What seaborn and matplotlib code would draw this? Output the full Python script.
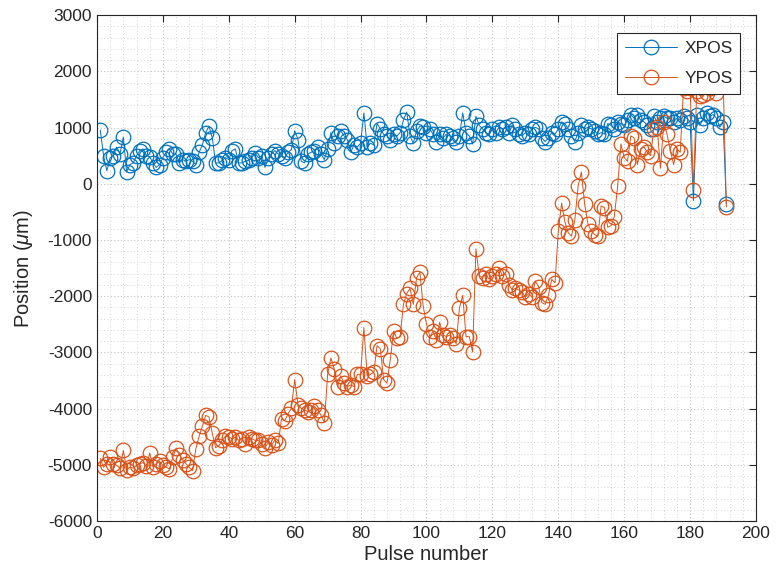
import numpy as np
import pandas as pd
import matplotlib
matplotlib.use("Agg")
import matplotlib.pyplot as plt
import seaborn as sns
from matplotlib.ticker import MultipleLocator

pulse = list(range(1, 192))

xpos = [955, 500, 230, 465, 500, 650, 530, 830, 210, 340,
        370, 500, 590, 620, 500, 480, 370, 290, 340, 465,
        560, 620, 530, 530, 370, 430, 400, 430, 400, 340,
        560, 690, 910, 1025, 815, 370, 370, 415, 465, 430,
        590, 620, 370, 370, 400, 415, 465, 540, 465, 500,
        290, 465, 530, 590, 530, 500, 465, 560, 605, 940,
        785, 400, 370, 530, 560, 590, 655, 530, 430, 620,
        910, 720, 850, 940, 850, 785, 560, 690, 655, 720,
        1260, 655, 720, 690, 1070, 975, 880, 850, 785, 880,
        850, 910, 1130, 1275, 850, 720, 940, 1025, 1005, 910,
        975, 880, 750, 880, 815, 880, 850, 815, 750, 850,
        1260, 910, 850, 705, 1200, 1040, 975, 910, 880, 975,
        910, 1005, 975, 1005, 910, 1040, 975, 880, 850, 910,
        880, 975, 1005, 975, 815, 750, 815, 910, 880, 975,
        1100, 1070, 975, 850, 750, 910, 1040, 975, 1005, 975,
        940, 880, 910, 880, 1070, 1040, 975, 1100, 1070, 1040,
        1130, 1230, 1165, 1230, 1130, 1100, 1040, 975, 1200, 1100,
        1165, 1200, 1165, 1165, 1100, 1165, 1130, 1200, 1165, 1100,
        -300, 1230, 1040, 1165, 1260, 1200, 1230, 1165, 1005, 1100,
        -360]

ypos = [-4885, -5045, -4980, -4870, -4980, -5010, -5060, -4745, -5085, -5045,
        -5060, -5010, -4980, -4960, -5025, -4790, -5045, -4980, -4935, -5010,
        -5045, -5075, -4870, -4705, -4820, -4915, -4980, -5045, -5105, -4720,
        -4490, -4310, -4120, -4150, -4440, -4695, -4660, -4565, -4490, -4505,
        -4535, -4505, -4565, -4535, -4630, -4505, -4535, -4565, -4565, -4630,
        -4695, -4600, -4645, -4565, -4620, -4185, -4215, -4090, -3995, -3485,
        -3930, -3995, -4025, -4055, -4025, -3960, -4025, -4120, -4250, -3390,
        -3100, -3295, -3610, -3420, -3550, -3610, -3580, -3610, -3390, -3390,
        -2560, -3420, -3390, -3355, -2880, -2940, -3485, -3550, -3135, -2625,
        -2750, -2720, -2145, -1955, -1860, -2145, -1670, -1575, -2180, -2495,
        -2720, -2625, -2785, -2465, -2690, -2720, -2690, -2750, -2845, -2210,
        -1985, -2720, -2720, -2995, -1160, -1635, -1670, -1605, -1700, -1635,
        -1605, -1495, -1635, -1605, -1795, -1890, -1860, -1890, -1925, -2020,
        -1955, -2020, -1730, -1830, -2115, -2145, -1985, -1700, -1765, -840,
        -345, -680, -870, -935, -650, -45, 210, -365, -715, -840,
        -905, -935, -395, -425, -775, -745, -585, -45, 705, 465,
        400, 850, 815, 340, 620, 655, 560, 500, 975, 1005,
        275, 1100, 880, 590, 340, 620, 560, 1705, 1645, 1705,
        -110, 1645, 1560, 1580, 1610, 1705, 1865, 1620, 1900, 1900,
        -415]

df = pd.DataFrame({
    "Pulse": pulse * 2,
    "Position": xpos + ypos,
    "Series": ["XPOS"] * len(pulse) + ["YPOS"] * len(pulse),
})

sns.set_theme(style="white")
plt.rcParams["font.family"] = ["Liberation Sans", "DejaVu Sans"]
plt.rcParams["mathtext.fontset"] = "custom"
plt.rcParams["mathtext.it"] = "Liberation Sans:italic"
plt.rcParams["mathtext.rm"] = "Liberation Sans"
plt.rcParams["axes.unicode_minus"] = False

fig = plt.figure(figsize=(7.77, 5.80), dpi=100)
ax = fig.add_axes([0.1248, 0.1017, 0.973 - 0.1248, 0.974 - 0.1017])

colors = {"XPOS": "#0072BD", "YPOS": "#D95319"}
for name in ["XPOS", "YPOS"]:
    sub = df[df["Series"] == name]
    sns.lineplot(data=sub, x="Pulse", y="Position", ax=ax, color=colors[name],
                 linewidth=0.7, marker="o", markersize=10.5,
                 markerfacecolor="none", markeredgecolor=colors[name],
                 markeredgewidth=0.9, label=name, sort=False,
                 estimator=None, errorbar=None)

ax.set_xlim(0, 200)
ax.set_ylim(-6000, 3000)
ax.xaxis.set_major_locator(MultipleLocator(20))
ax.yaxis.set_major_locator(MultipleLocator(1000))
ax.xaxis.set_minor_locator(MultipleLocator(4))
ax.yaxis.set_minor_locator(MultipleLocator(200))

ax.grid(True, which="major", color="#c4c4c4", linestyle=(0, (1, 2)), linewidth=0.8)
ax.grid(True, which="minor", color="#c8c8c8", linestyle=(0, (1, 3)), linewidth=0.6)
ax.set_axisbelow(True)

ax.tick_params(which="major", direction="in", length=5, width=0.8,
               top=True, right=True, labelsize=12.5, colors="#262626")
ax.tick_params(which="minor", length=0)
for s in ax.spines.values():
    s.set_color("#262626")
    s.set_linewidth(0.8)
    s.set_visible(True)

ax.set_xlabel("Pulse number", fontsize=14.5, color="#262626", labelpad=3)
ax.set_ylabel(r"Position ($\mu$m)", fontsize=14.5, color="#262626", labelpad=9)

leg = ax.legend(loc="upper right", bbox_to_anchor=(0.976, 0.964), fontsize=12.5,
                frameon=True, fancybox=False, framealpha=1, edgecolor="#262626",
                handlelength=3.0, borderpad=0.45, labelspacing=0.85,
                handletextpad=0.4, borderaxespad=0)
leg.get_frame().set_linewidth(0.8)

fig.savefig("out.png", dpi=100)
